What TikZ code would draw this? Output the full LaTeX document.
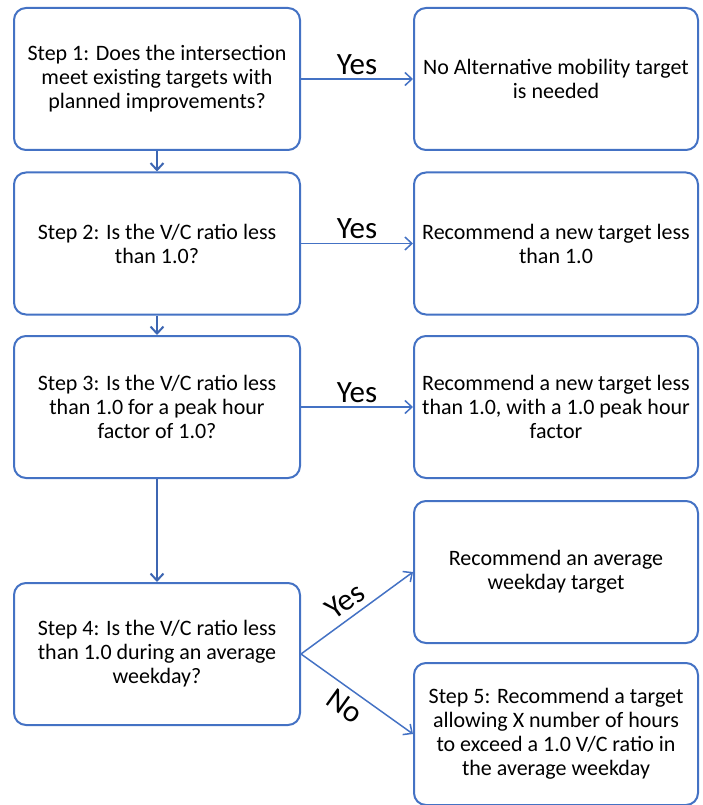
\documentclass[tikz,border=0pt]{standalone}
\usepackage{fontspec}
\setmainfont{Carlito}
\usetikzlibrary{arrows.meta, positioning}
\definecolor{flowblue}{HTML}{4472C4}
\definecolor{flowdark}{HTML}{3D66B2}

\begin{document}
\begin{tikzpicture}[x=1pt, y=-1pt, >={Straight Barb[length=7pt, width=13pt]}, font=\fontsize{22}{24}\selectfont]
\tikzset{qbox/.style={draw=flowblue, line width=2pt, rounded corners=12pt, fill=white, align=center, minimum width=286pt, minimum height=142pt}, rbox/.style={qbox, minimum width=284pt}, yes/.style={text=black, font=\fontsize{31}{33}\selectfont}}
\useasboundingbox (0,0) rectangle (702,805);
\node[qbox] (Q1) at (157,79) {Step 1: Does the intersection\\meet existing targets with\\planned improvements?};
\node[qbox] (Q2) at (157,243.5) {Step 2: Is the V/C ratio less\\than 1.0?};
\node[qbox] (Q3) at (157,407) {Step 3: Is the V/C ratio less\\than 1.0 for a peak hour\\factor of 1.0?};
\node[qbox] (Q4) at (157,654) {Step 4: Is the V/C ratio less\\than 1.0 during an average\\weekday?};
\node[rbox] (R1) at (556,79) {No Alternative mobility target\\is needed};
\node[rbox] (R2) at (556,243.5) {Recommend a new target less\\than 1.0};
\node[rbox] (R3) at (556,407) {Recommend a new target less\\than 1.0, with a 1.0 peak hour\\factor};
\node[rbox] (R4) at (556,572) {Recommend an average\\weekday target};
\node[rbox] (R5) at (556,734) {Step 5: Recommend a target\\allowing X number of hours\\to exceed a 1.0 V/C ratio in\\the average weekday};
% yes branches
\draw[->, flowblue, line width=1.5pt] (Q1) -- node[yes, above, inner sep=4pt] {Yes} (R1);
\draw[->, flowblue, line width=1.5pt] (Q2) -- node[yes, above, inner sep=4pt] {Yes} (R2);
\draw[->, flowblue, line width=1.5pt] (Q3) -- node[yes, above, inner sep=4pt] {Yes} (R3);
\draw[->, flowblue, line width=1.5pt] (Q4.east) -- node[yes, sloped, above, pos=0.48, inner sep=6pt] {Yes} (R4.west);
\draw[->, flowblue, line width=1.5pt] (Q4.east) -- node[yes, sloped, below, pos=0.48, inner sep=6pt] {No} (R5.west);
% no branches
\draw[->, flowdark, line width=2pt] (Q1) -- (Q2); \draw[->, flowdark, line width=2pt] (Q2) -- (Q3); \draw[->, flowdark, line width=2pt] (Q3) -- (Q4);
\end{tikzpicture}
\end{document}
